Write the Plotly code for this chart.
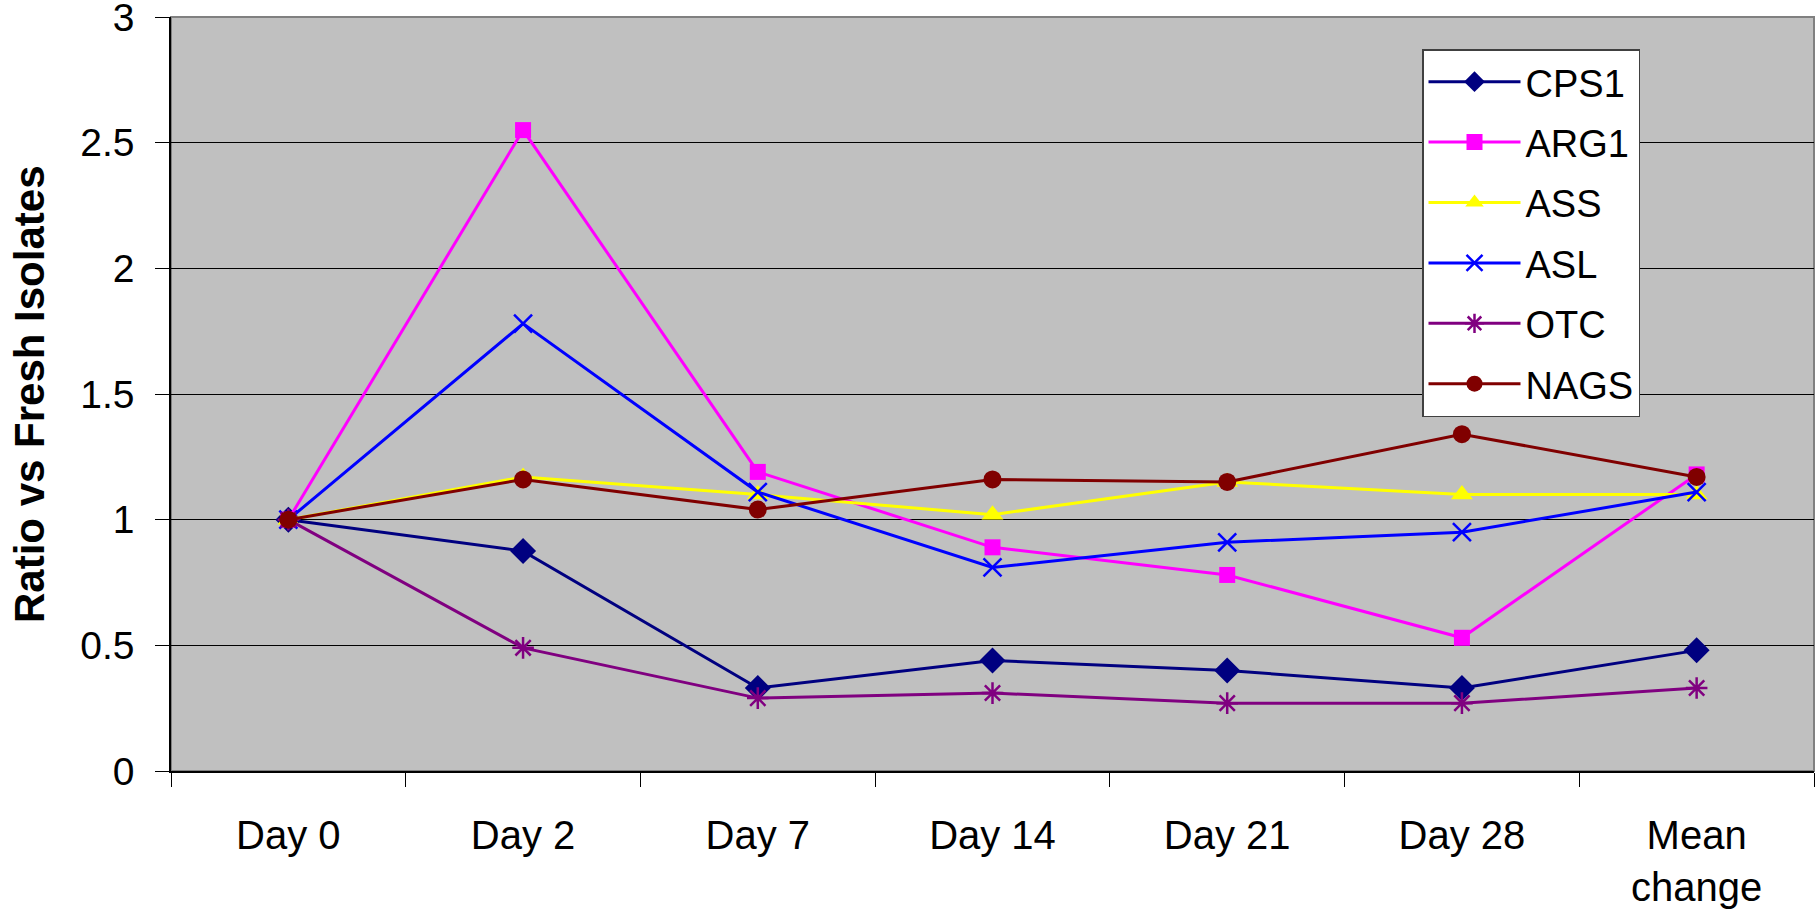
import plotly.graph_objects as go

days = ["Day 0", "Day 2", "Day 7", "Day 14", "Day 21", "Day 28", "Mean<br>change"]

cps1 = [1.00, 0.875, 0.33, 0.44, 0.40, 0.33, 0.48]
arg1 = [1.00, 2.55, 1.19, 0.89, 0.78, 0.53, 1.18]
ass = [1.00, 1.17, 1.10, 1.02, 1.15, 1.10, 1.10]
asl = [1.00, 1.78, 1.11, 0.81, 0.91, 0.95, 1.11]
otc = [1.00, 0.49, 0.29, 0.31, 0.27, 0.27, 0.33]
nags = [1.00, 1.16, 1.04, 1.16, 1.15, 1.34, 1.17]

y_ticks = [0, 0.5, 1, 1.5, 2, 2.5, 3]
y_tick_text = ["0", "0.5", "1", "1.5", "2", "2.5", "3"]

series = [
    ("CPS1", cps1, "#000080", "diamond", 20),
    ("ARG1", arg1, "#FF00FF", "square", 16),
    ("ASS", ass, "#FFFF00", "triangle-up", 19),
    ("ASL", asl, "#0000FF", "x-thin-open", 18),
    ("OTC", otc, "#800080", "asterisk-open", 18),
    ("NAGS", nags, "#800000", "circle", 18),
]

FONT = "Liberation Sans, Arial, sans-serif"

fig = go.Figure()
for i, (name, vals, color, symbol, size) in enumerate(series):
    open_sym = symbol.endswith("open")
    fig.add_trace(go.Scatter(
        x=days, y=vals, name=name, mode="lines+markers",
        legendgroup=f"g{i}",
        line=dict(color=color, width=3),
        marker=dict(symbol=symbol, size=size, color=color,
                    line=dict(color=color, width=2.5 if open_sym else 0)),
    ))

W, H = 1816, 919
L, R, T, B = 171, 2, 17, 148

fig.update_layout(
    width=W, height=H,
    margin=dict(l=L, r=R, t=T, b=B),
    paper_bgcolor="white",
    plot_bgcolor="#C0C0C0",
    font=dict(family=FONT, size=39, color="black"),
    showlegend=True,
    legend=dict(
        x=(1422 - L) / (W - L - R), y=1 - (49 - T) / (H - T - B),
        xanchor="left", yanchor="top",
        bgcolor="white", bordercolor="#404040", borderwidth=1.5,
        font=dict(family=FONT, size=38),
        itemwidth=92, tracegroupgap=8,
        traceorder="grouped",
    ),
    xaxis=dict(
        type="category", range=[-0.5, 6.5],
        tickson="boundaries", ticks="outside", ticklen=14,
        tickcolor="black", tickwidth=1,
        showgrid=False, showline=True, linecolor="black", linewidth=1.5,
        tickfont=dict(family=FONT, size=40),
        ticklabelstandoff=28,
        automargin=False,
        zeroline=False,
    ),
    yaxis=dict(
        range=[0, 3], tickvals=y_ticks, ticktext=y_tick_text,
        ticks="outside", ticklen=14, tickcolor="black", tickwidth=1,
        showgrid=True, gridcolor="black", gridwidth=1,
        showline=True, linecolor="black", linewidth=1.5,
        tickfont=dict(family=FONT, size=39),
        ticklabelstandoff=13,
        ticklabeloverflow="allow",
        automargin=False,
        zeroline=False,
    ),
    annotations=[dict(
        text="<b>Ratio vs Fresh Isolates</b>",
        xref="paper", yref="paper",
        x=(29 - L) / (W - L - R), y=0.5,
        xanchor="center", yanchor="middle",
        textangle=-90, showarrow=False,
        font=dict(family=FONT, size=42, color="black"),
    )],
    shapes=[dict(
        type="rect", xref="paper", yref="paper", x0=0, x1=1, y0=0, y1=1,
        line=dict(color="#808080", width=2), fillcolor="rgba(0,0,0,0)",
        layer="below",
    )],
)

fig.write_html("out.html")
